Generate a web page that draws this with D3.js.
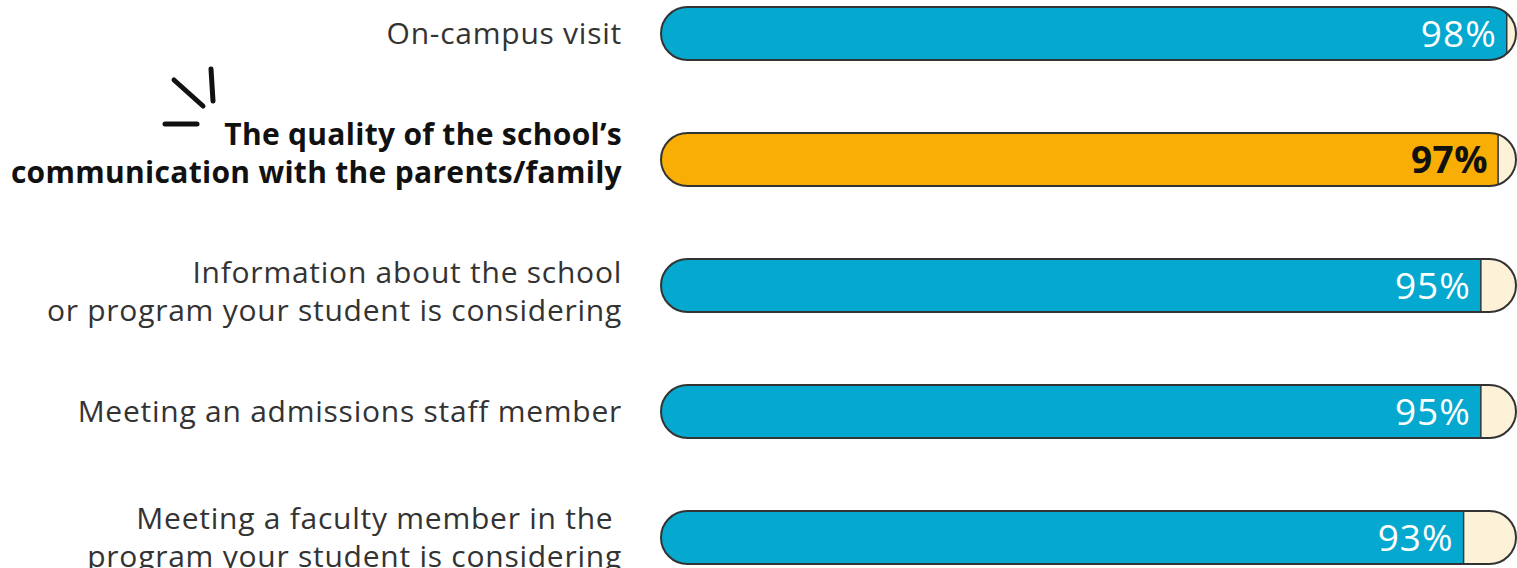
<!DOCTYPE html>
<html>
<head>
<meta charset="utf-8">
<script src="https://cdn.jsdelivr.net/npm/d3@7"></script>
<style>
  body { margin: 0; background: #fff; }
  svg { display: block; }
  .label { font-family: "Open Sans", sans-serif; font-size: 30px; letter-spacing: 0.75px; fill: #333; }
  .label.hi { font-weight: 700; letter-spacing: 0.3px; fill: #111; }
  .pct { font-family: "Open Sans", sans-serif; font-size: 37px; letter-spacing: 1px; fill: #fff; }
  .pct.hi { font-weight: 700; letter-spacing: 0.5px; fill: #111; }
</style>
</head>
<body>
<div id="chart"></div>
<script>
// data
const categories = [
  ["On-campus visit"],
  ["The quality of the school\u2019s", "communication with the parents/family"],
  ["Information about the school", "or program your student is considering"],
  ["Meeting an admissions staff member"],
  ["Meeting a faculty member in the ", "program your student is considering"]
];
const values = [98, 97, 95, 95, 93];
const highlight = [false, true, false, false, false];

const chart = {
  width: 1517,
  height: 568,
  barLeft: 661,
  barRight: 1516,
  labelRight: 622
};

const rows = categories.map((c, i) => ({ id: i, lines: c, value: values[i], hi: highlight[i] }));

const svg = d3.select('#chart')
  .append('svg')
  .attr('width', chart.width)
  .attr('height', chart.height);

const x = d3.scaleLinear()
  .domain([0, 100])
  .range([chart.barLeft, 1524]);

const y = d3.scaleBand()
  .domain(rows.map(d => d.id))
  .range([7, 564])
  .paddingInner(0.579)
  .paddingOuter(0);

const bh = y.bandwidth();

const defs = svg.append('defs');
rows.forEach(d => {
  defs.append('clipPath')
    .attr('id', 'clip' + d.id)
    .append('rect')
      .attr('x', chart.barLeft)
      .attr('y', y(d.id))
      .attr('width', chart.barRight - chart.barLeft)
      .attr('height', bh)
      .attr('rx', bh / 2);
});

const bars = svg.append('g')
  .selectAll('g')
  .data(rows)
  .join('g');

// background track
bars.append('rect')
  .attr('x', chart.barLeft)
  .attr('y', d => y(d.id))
  .attr('width', chart.barRight - chart.barLeft)
  .attr('height', bh)
  .attr('rx', bh / 2)
  .style('fill', '#fdf1d8');

// value fill
bars.append('rect')
  .attr('clip-path', d => `url(#clip${d.id})`)
  .attr('x', chart.barLeft)
  .attr('y', d => y(d.id))
  .attr('width', d => x(d.value) - chart.barLeft)
  .attr('height', bh)
  .style('fill', d => d.hi ? '#f8ae05' : '#05a9cf')
  .style('stroke', '#2b3a40')
  .style('stroke-width', 1.5);

// outline
bars.append('rect')
  .attr('x', chart.barLeft)
  .attr('y', d => y(d.id))
  .attr('width', chart.barRight - chart.barLeft)
  .attr('height', bh)
  .attr('rx', bh / 2)
  .style('fill', 'none')
  .style('stroke', '#333')
  .style('stroke-width', 2);

bars.append('text')
  .attr('class', d => d.hi ? 'pct hi' : 'pct')
  .attr('x', d => x(d.value) - 10)
  .attr('y', d => y(d.id) + bh / 2)
  .attr('dy', '0.36em')
  .attr('text-anchor', 'end')
  .text(d => d.value + '%');

// labels
const labels = svg.append('g')
  .selectAll('text')
  .data(rows)
  .join('text')
    .attr('class', d => d.hi ? 'label hi' : 'label')
    .attr('text-anchor', 'end')
    .attr('x', chart.labelRight)
    .attr('y', d => y(d.id) + bh / 2 + (d.id === 1 ? -6 : d.id === 2 ? 6 : 0));

labels.selectAll('tspan')
  .data(d => d.lines.map((l, i) => ({ text: l, i, n: d.lines.length })))
  .join('tspan')
    .attr('x', chart.labelRight)
    .attr('dy', d => d.i === 0 ? `${0.35 - (d.n - 1) * 0.62}em` : '1.24em')
    .text(d => d.text);

// little spark next to the highlighted label
const spark = [
  [[174, 80], [203, 106]],
  [[211, 69], [213, 101]],
  [[165, 124], [197, 124]]
];
svg.append('g')
  .selectAll('path')
  .data(spark)
  .join('path')
    .attr('d', d => d3.line()(d))
    .style('stroke', '#111')
    .style('stroke-width', 5)
    .style('stroke-linecap', 'round');
</script>
</body>
</html>
